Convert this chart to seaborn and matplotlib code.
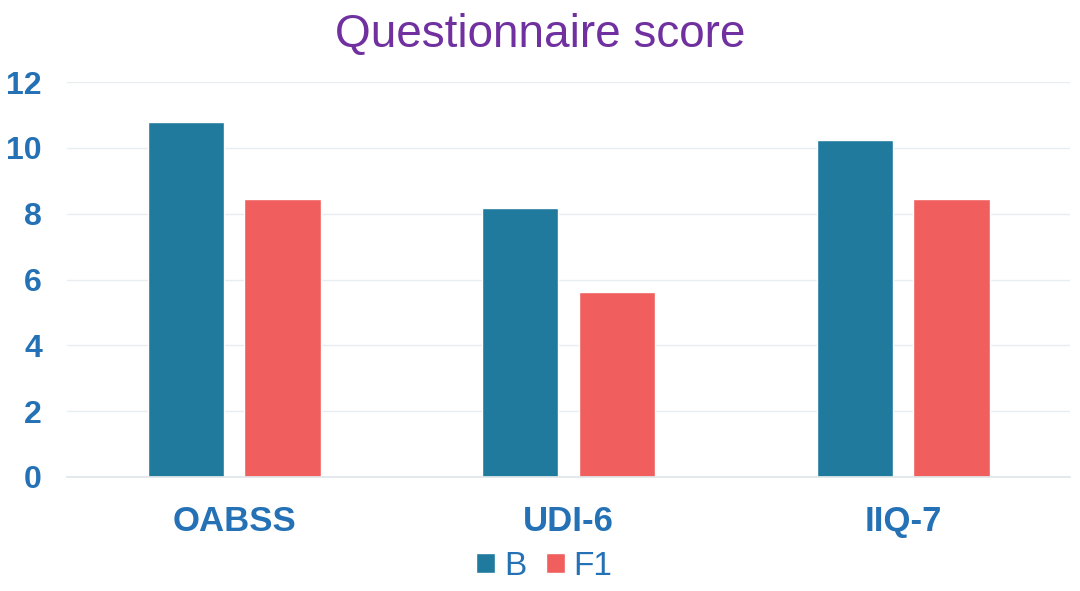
import pandas as pd
import matplotlib.pyplot as plt
import seaborn as sns

categories = ['OABSS', 'UDI-6', 'IIQ-7']
series_b = [10.8, 8.17, 10.25]
series_f1 = [8.45, 5.63, 8.44]
yticks = [0, 2, 4, 6, 8, 10, 12]

df = pd.DataFrame({
    'cat': categories * 2,
    'group': ['B'] * 3 + ['F1'] * 3,
    'value': series_b + series_f1,
})

sns.set_theme(style='white')
plt.rcParams['font.family'] = ['Liberation Sans', 'DejaVu Sans']

blue_text = '#2471B5'
fig = plt.figure(figsize=(10.8, 5.91), dpi=100)
ax = fig.add_axes([0.062, 0.193, 0.929, 0.668])

sns.barplot(data=df, x='cat', y='value', hue='group', order=categories,
            palette={'B': '#1F7A9E', 'F1': '#F05E5E'}, width=0.578, gap=0.21,
            saturation=1, ax=ax, legend=True)

ax.set_ylim(0, 12)
ax.set_xlim(-0.5, 2.5)
ax.set_yticks(yticks)
ax.yaxis.grid(True, color='#E8EDF0', linewidth=1)
ax.set_axisbelow(True)
for s in ['top', 'right', 'left']:
    ax.spines[s].set_visible(False)
ax.spines['bottom'].set_color('#E0E6EA')
ax.set_xlabel('')
ax.set_ylabel('')
ax.tick_params(axis='both', length=0)
ax.tick_params(axis='y', pad=18)
ax.tick_params(axis='x', pad=20)
for t in ax.get_yticklabels():
    t.set_fontsize(23)
    t.set_fontweight('bold')
    t.set_color(blue_text)
for t in ax.get_xticklabels():
    t.set_fontsize(25)
    t.set_fontweight('bold')
    t.set_color(blue_text)

fig.text(0.5, 0.94, 'Questionnaire score', ha='center', va='center',
         fontsize=33, color='#7030A0')

handles, labels = ax.get_legend_handles_labels()
ax.legend_.remove()
leg = fig.legend(handles, labels, loc='center', bbox_to_anchor=(0.504, 0.042), ncol=2,
                 frameon=False, fontsize=24, handlelength=0.58, handleheight=0.58,
                 handletextpad=0.25, columnspacing=0.6)
for t in leg.get_texts():
    t.set_color(blue_text)

fig.savefig('out.png', dpi=100)
